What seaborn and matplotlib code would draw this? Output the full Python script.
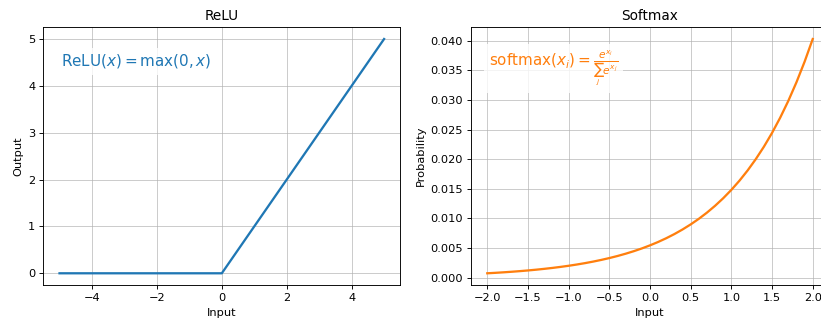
import matplotlib
matplotlib.use("Agg")
import matplotlib.pyplot as plt
import seaborn as sns
import pandas as pd

# ReLU breakpoints
relu_x = [-5.0, 0.0, 5.0]
relu_y = [0.0, 0.0, 5.0]

# Softmax probabilities sampled along the input range
softmax_x = [-2.0, -1.9, -1.8, -1.7, -1.6, -1.5, -1.4, -1.3, -1.2, -1.1, -1.0,
             -0.9, -0.8, -0.7, -0.6, -0.5, -0.4, -0.3, -0.2, -0.1, 0.0,
             0.1, 0.2, 0.3, 0.4, 0.5, 0.6, 0.7, 0.8, 0.9, 1.0,
             1.1, 1.2, 1.3, 1.4, 1.5, 1.6, 1.7, 1.8, 1.9, 2.0]
softmax_y = [0.000738, 0.000816, 0.000902, 0.000997, 0.001101, 0.001217,
             0.001345, 0.001487, 0.001643, 0.001816, 0.002007, 0.002218,
             0.002451, 0.002709, 0.002994, 0.003309, 0.003657, 0.004042,
             0.004467, 0.004936, 0.005456, 0.006029, 0.006663, 0.007364,
             0.008139, 0.008995, 0.009941, 0.010986, 0.012142, 0.013419,
             0.014830, 0.016389, 0.018113, 0.020018, 0.022123, 0.024450,
             0.027021, 0.029863, 0.033004, 0.036475, 0.040312]

relu_df = pd.DataFrame({"Input": relu_x, "Output": relu_y})
soft_df = pd.DataFrame({"Input": softmax_x, "Probability": softmax_y})

W, H = 821, 324
DPI = 82.1
fig = plt.figure(figsize=(W / DPI, H / DPI), dpi=DPI)
bottom = (H - 285) / H
height = (285 - 27.3) / H
ax1 = fig.add_axes([43.3 / W, bottom, (400.3 - 43.3) / W, height])
ax2 = fig.add_axes([471 / W, bottom, (829 - 471) / W, height])

sns.lineplot(data=relu_df, x="Input", y="Output", ax=ax1, color="tab:blue", linewidth=2)
ax1.set_title("ReLU")
ax1.set_xlabel("Input")
ax1.set_ylabel("Output")
ax1.grid(True, alpha=0.7)
ax1.text(0.05, 0.85, r"$\mathrm{ReLU}(x) = \max(0, x)$", transform=ax1.transAxes,
         fontsize=13.3, color="tab:blue",
         bbox=dict(facecolor="white", edgecolor="none", alpha=0.8))

sns.lineplot(data=soft_df, x="Input", y="Probability", ax=ax2, color="tab:orange", linewidth=2)
ax2.set_title("Softmax")
ax2.set_xlabel("Input")
ax2.set_ylabel("Probability")
ax2.grid(True, alpha=0.7)
ax2.text(0.05, 0.85, r"$\mathrm{softmax}(x_i) = \frac{e^{x_i}}{\sum_j e^{x_j}}$",
         transform=ax2.transAxes, fontsize=13.3, color="tab:orange",
         bbox=dict(facecolor="white", edgecolor="none", alpha=0.8))

fig.savefig("out.png", dpi=DPI)
